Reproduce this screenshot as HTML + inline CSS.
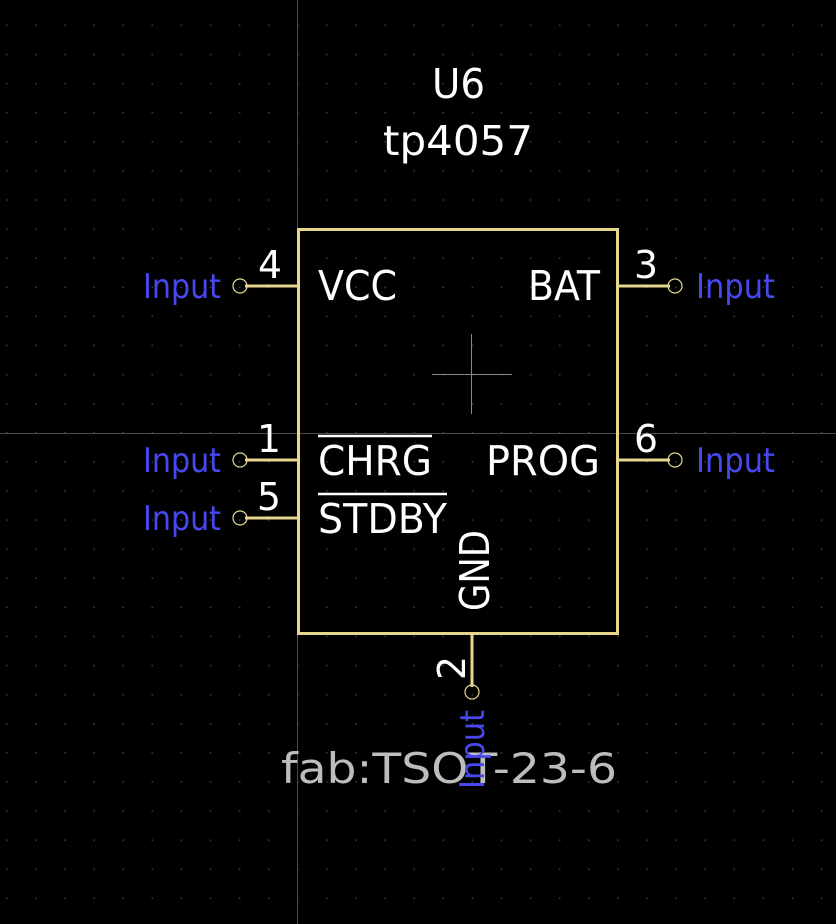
<!DOCTYPE html>
<html><head><style>html,body{margin:0;padding:0;background:#000;}svg{display:block}</style></head>
<body>
<svg width="836" height="924" viewBox="0 0 836 924" xmlns="http://www.w3.org/2000/svg" font-family="'DejaVu Sans','Liberation Sans',sans-serif">
<defs>
<pattern id="g" x="6" y="24.6" width="29.1" height="29.1" patternUnits="userSpaceOnUse">
<rect x="0" y="0" width="1.6" height="1.6" fill="#3a3a3a"/>
</pattern>
</defs>
<rect width="836" height="924" fill="#000"/>
<rect width="836" height="924" fill="url(#g)"/>
<line x1="297.5" y1="0" x2="297.5" y2="924" stroke="#4a4a4a" stroke-width="1"/>
<line x1="0" y1="433.5" x2="836" y2="433.5" stroke="#4a4a4a" stroke-width="1"/>

<g fill="#ffffff">
<text x="432" y="98" font-size="41" textLength="53" lengthAdjust="spacingAndGlyphs">U6</text>
<text x="383" y="155" font-size="41" textLength="150" lengthAdjust="spacingAndGlyphs">tp4057</text>
</g>

<rect x="298.5" y="229.5" width="319" height="404" fill="none" stroke="#e6d78e" stroke-width="3"/>
<line x1="432" y1="374.5" x2="512" y2="374.5" stroke="#888" stroke-width="1"/>
<line x1="471.5" y1="334" x2="471.5" y2="414" stroke="#888" stroke-width="1"/>

<g stroke="#e6d78e" stroke-width="3">
<line x1="245" y1="286" x2="298" y2="286"/>
<line x1="245" y1="460" x2="298" y2="460"/>
<line x1="245" y1="518" x2="298" y2="518"/>
<line x1="618" y1="286" x2="670" y2="286"/>
<line x1="618" y1="460" x2="670" y2="460"/>
<line x1="472" y1="633" x2="472" y2="687"/>
</g>
<g fill="none" stroke="#e6d78e" stroke-width="1.2">
<circle cx="240" cy="286" r="7"/>
<circle cx="240" cy="460" r="7"/>
<circle cx="240" cy="518" r="7"/>
<circle cx="675" cy="286" r="7"/>
<circle cx="675" cy="460" r="7"/>
<circle cx="472" cy="692" r="7"/>
</g>

<g fill="#ffffff" font-size="41">
<text x="318" y="300" textLength="79" lengthAdjust="spacingAndGlyphs">VCC</text>
<text x="528" y="300" textLength="72" lengthAdjust="spacingAndGlyphs">BAT</text>
<text x="318" y="475" textLength="114" lengthAdjust="spacingAndGlyphs">CHRG</text>
<text x="486" y="475" textLength="114" lengthAdjust="spacingAndGlyphs">PROG</text>
<text x="318" y="533" textLength="129" lengthAdjust="spacingAndGlyphs">STDBY</text>
<text transform="translate(489,611) rotate(-90)" textLength="81" lengthAdjust="spacingAndGlyphs">GND</text>
</g>
<g stroke="#fff" stroke-width="2.5">
<line x1="318" y1="436" x2="432" y2="436"/>
<line x1="318" y1="494" x2="447" y2="494"/>
</g>

<g fill="#ffffff" font-size="38">
<text x="258" y="278" textLength="24" lengthAdjust="spacingAndGlyphs">4</text>
<text x="257" y="452" textLength="24" lengthAdjust="spacingAndGlyphs">1</text>
<text x="257" y="510" textLength="24" lengthAdjust="spacingAndGlyphs">5</text>
<text x="634" y="278" textLength="24" lengthAdjust="spacingAndGlyphs">3</text>
<text x="634" y="452" textLength="24" lengthAdjust="spacingAndGlyphs">6</text>
<text transform="translate(465,680) rotate(-90)" textLength="24" lengthAdjust="spacingAndGlyphs">2</text>
</g>

<g fill="#4848f0" font-size="34">
<text x="143" y="298" textLength="78" lengthAdjust="spacingAndGlyphs">Input</text>
<text x="143" y="472" textLength="78" lengthAdjust="spacingAndGlyphs">Input</text>
<text x="143" y="530" textLength="78" lengthAdjust="spacingAndGlyphs">Input</text>
<text x="696" y="298" textLength="79" lengthAdjust="spacingAndGlyphs">Input</text>
<text x="696" y="472" textLength="79" lengthAdjust="spacingAndGlyphs">Input</text>
</g>

<text x="281" y="783" font-size="42" fill="#bdbdbd" textLength="336" lengthAdjust="spacingAndGlyphs">fab:TSOT-23-6</text>
<text transform="translate(484,789) rotate(-90)" font-size="34" fill="#4848f0" textLength="79" lengthAdjust="spacingAndGlyphs">Input</text>
</svg>
</body></html>
